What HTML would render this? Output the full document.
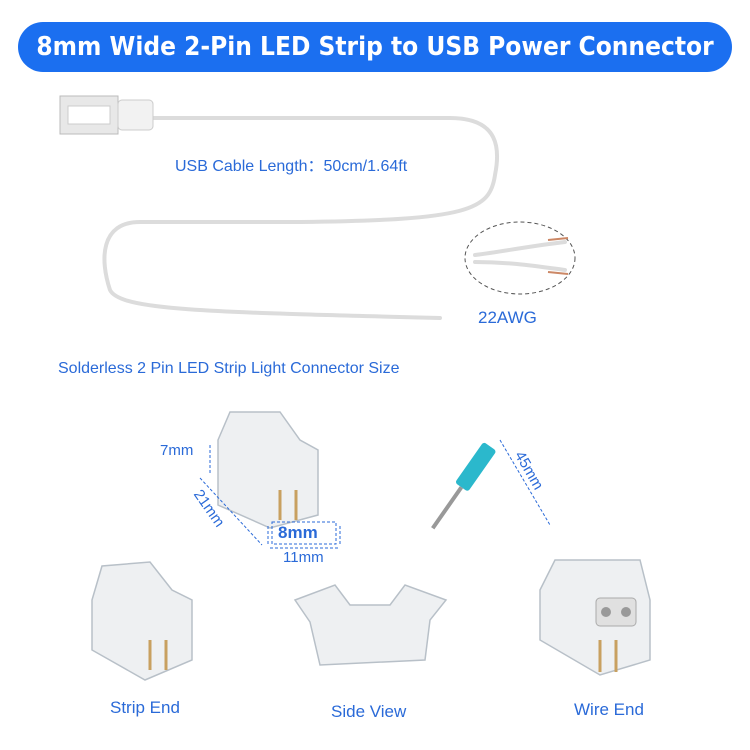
<!DOCTYPE html>
<html><head><meta charset="utf-8"><style>
body{margin:0;background:#fff;}
#c{position:relative;width:750px;height:750px;overflow:hidden;font-family:"Liberation Sans",sans-serif;}
.t{position:absolute;color:#2a6ad8;font-size:16px;white-space:nowrap;}
</style></head><body><div id="c">
<div style="position:absolute;left:18px;top:22px;width:714px;height:50px;border-radius:25px;background:#1b6ff0;"></div>
<div style="position:absolute;left:18px;top:22px;width:714px;height:50px;line-height:50px;text-align:center;color:#fff;font-weight:bold;font-size:26px;font-family:'DejaVu Sans Condensed','Liberation Sans',sans-serif;">8mm Wide 2-Pin LED Strip to USB Power Connector</div>
<svg width="750" height="750" style="position:absolute;left:0;top:0">
<g fill="none" stroke="#dcdcdc" stroke-width="4" stroke-linecap="round">
<path d="M150 118 L 450 118 C 500 118 500 150 495 175 C 490 210 470 220 300 222 L 140 222 C 100 222 100 260 110 290 C 120 310 200 312 440 318"/>
<path d="M475 255 C 500 252 530 246 565 242 M475 262 C 510 262 535 266 565 270"/>
</g>
<rect x="60" y="96" width="58" height="38" fill="#e8e8e8" stroke="#bbb"/>
<rect x="118" y="100" width="35" height="30" rx="4" fill="#f2f2f2" stroke="#ccc"/>
<rect x="68" y="106" width="42" height="18" fill="#fff" stroke="#ccc"/>
<ellipse cx="520" cy="258" rx="55" ry="36" fill="none" stroke="#555" stroke-dasharray="4 3"/>
<path d="M548 240 L568 238 M548 272 L568 274" stroke="#c86" stroke-width="2"/>
<g fill="#eef0f2" stroke="#b8c0c8" stroke-width="1.5">
<path d="M218 440 L230 412 L280 412 L300 440 L318 450 L318 515 L270 528 L218 505 Z"/>
<path d="M92 600 L102 566 L150 562 L172 590 L192 600 L192 660 L145 680 L92 650 Z"/>
<path d="M295 600 L335 585 L350 605 L390 605 L405 585 L446 600 L430 620 L425 660 L320 665 L310 622 Z"/>
<path d="M540 590 L555 560 L640 560 L650 600 L650 660 L600 675 L540 640 Z"/>
</g>
<rect x="596" y="598" width="40" height="28" rx="4" fill="#e0e0e0" stroke="#aaa"/>
<circle cx="606" cy="612" r="5" fill="#999"/><circle cx="626" cy="612" r="5" fill="#999"/>
<g stroke="#c8a060" stroke-width="3"><path d="M280 490 L280 520 M296 490 L296 520 M150 640 L150 670 M166 640 L166 670 M600 640 L600 672 M616 640 L616 672"/></g>
<g transform="rotate(35 470 475)"><rect x="462" y="440" width="16" height="50" rx="3" fill="#2bb8cc"/><rect x="468" y="490" width="4" height="50" fill="#999"/></g>
<g stroke="#2a6ad8" stroke-width="1" stroke-dasharray="3 2" fill="none">
<path d="M210 445 L210 475 M200 478 L262 545 M270 548 L340 548 M268 526 L268 545 M340 526 L340 545 M500 440 L550 525"/>
</g>
<rect x="272" y="522" width="64" height="22" fill="none" stroke="#2a6ad8" stroke-dasharray="3 2"/>
</svg>
<div class="t" style="left:175px;top:152px">USB Cable Length：50cm/1.64ft</div>
<div class="t" style="left:478px;top:308px;font-size:17px">22AWG</div>
<div class="t" style="left:58px;top:360px">Solderless 2 Pin LED Strip Light Connector Size</div>
<div class="t" style="left:160px;top:442px;font-size:15px">7mm</div>
<div class="t" style="left:188px;top:500px;font-size:15px;transform:rotate(55deg)">21mm</div>
<div class="t" style="left:278px;top:523px;font-size:17px;font-weight:bold">8mm</div>
<div class="t" style="left:283px;top:549px;font-size:15px">11mm</div>
<div class="t" style="left:508px;top:462px;font-size:15px;transform:rotate(60deg)">45mm</div>
<div class="t" style="left:110px;top:698px;font-size:17px">Strip End</div>
<div class="t" style="left:331px;top:702px;font-size:17px">Side View</div>
<div class="t" style="left:574px;top:700px;font-size:17px">Wire End</div>
</div></body></html>
